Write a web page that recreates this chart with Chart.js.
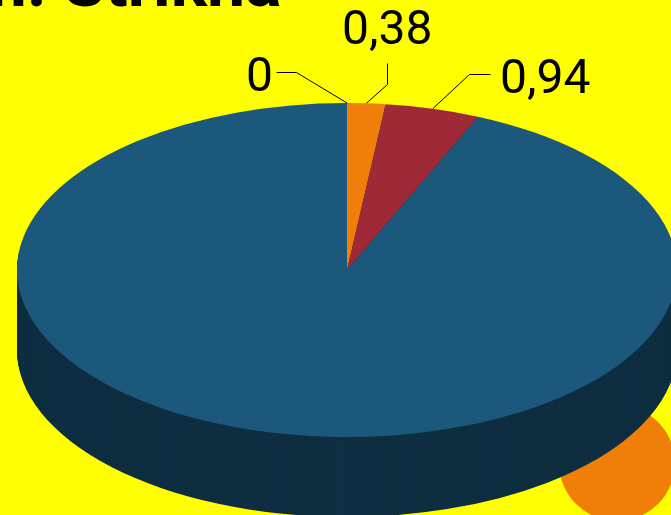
<!DOCTYPE html>
<html>
<head>
<meta charset="utf-8">
<script src="https://cdn.jsdelivr.net/npm/chart.js@4"></script>
<style>
  html, body { margin: 0; padding: 0; background: #ffff00; overflow: hidden; }
  canvas { display: block; }
</style>
</head>
<body>
<canvas id="pieChart" width="671" height="515"></canvas>
<script>
var labels = ["0", "0,38", "0,94", ""];
var values = [0, 0.38, 0.94, 19];
var colors = ["#4e8542", "#f07f09", "#9f2936", "#1b587c"];
var sideColor = "#0f2e41";
var titleText = "m: Strikna";

var squash = 167 / 330;
var depth = 80;

// text anchor and elbow of each leader line, same order as labels
var labelSpots = [
    { x: 246, y: 91, lineX: 276, lineY: 72, elbowX: 296, elbowY: 72 },
    { x: 342, y: 44, lineX: 387, lineY: 63, elbowX: 387, elbowY: 84 },
    { x: 500, y: 93, lineX: 490, lineY: 74, elbowX: 469, elbowY: 74 },
];

var tiltPlugin = {
    id: "tilt",
    beforeDatasetsDraw: function (chart) {
        var ctx = chart.ctx;
        ctx.save();
        ctx.fillStyle = "#000";
        ctx.font = "bold 68px Roboto";
        ctx.textBaseline = "alphabetic";
        ctx.fillText(titleText, -32, 6);
        ctx.fillStyle = "#f07f09";
        ctx.beginPath();
        ctx.arc(617, 463, 58, 0, Math.PI * 2);
        ctx.fill();
        ctx.restore();
    },
    beforeDatasetDraw: function (chart, args) {
        var ctx = chart.ctx;
        var arcs = args.meta.data;
        var cx = arcs[0].x;
        var cy = arcs[0].y;
        ctx.save();
        ctx.translate(cx, cy);
        ctx.scale(1, squash);
        ctx.translate(-cx, -cy);
        // side wall: the same arcs stacked downwards in a dark colour
        for (var d = depth; d > 0; d--) {
            ctx.save();
            ctx.translate(0, d / squash);
            arcs.forEach(function (arc) {
                var opts = arc.options;
                arc.options = Object.assign({}, opts, { backgroundColor: sideColor });
                arc.draw(ctx);
                arc.options = opts;
            });
            ctx.restore();
        }
    },
    afterDatasetDraw: function (chart, args) {
        var ctx = chart.ctx;
        ctx.restore();

        ctx.save();
        ctx.strokeStyle = "#000";
        ctx.lineWidth = 1;
        ctx.fillStyle = "#000";
        ctx.font = "48px Roboto";
        ctx.textBaseline = "alphabetic";
        labelSpots.forEach(function (spot, i) {
            var arc = args.meta.data[i];
            var mid = (arc.startAngle + arc.endAngle) / 2;
            var tipX = arc.x + arc.outerRadius * Math.cos(mid);
            var tipY = arc.y + arc.outerRadius * Math.sin(mid) * squash;
            ctx.beginPath();
            ctx.moveTo(spot.lineX + 0.5, spot.lineY + 0.5);
            ctx.lineTo(spot.elbowX + 0.5, spot.elbowY + 0.5);
            ctx.lineTo(tipX, tipY);
            ctx.stroke();
            ctx.fillText(labels[i], spot.x, spot.y);
        });
        ctx.restore();
    },
};

new Chart(document.getElementById("pieChart").getContext("2d"), {
    type: "pie",
    data: {
        labels: labels,
        datasets: [
            {
                data: values,
                backgroundColor: colors,
                borderWidth: 0,
                clip: false,
            },
        ],
    },
    options: {
        responsive: false,
        animation: false,
        radius: 330,
        layout: { padding: { left: 23, top: 25 } },
        events: [],
        plugins: {
            legend: { display: false },
            title: { display: false },
            tooltip: { enabled: false },
        },
    },
    plugins: [tiltPlugin],
});
</script>
</body>
</html>
